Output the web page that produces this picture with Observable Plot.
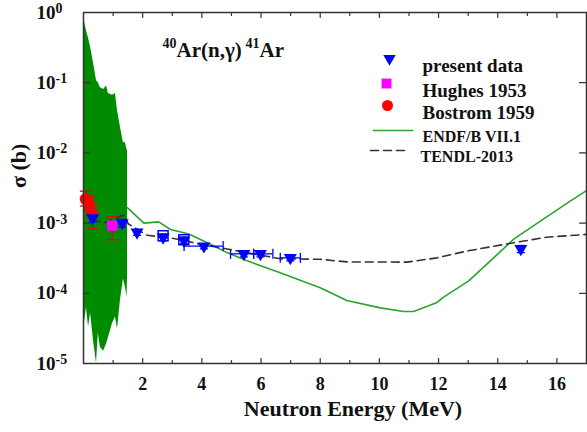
<!DOCTYPE html>
<html><head><meta charset="utf-8">
<script src="https://cdn.jsdelivr.net/npm/d3@7"></script>
<script src="https://cdn.jsdelivr.net/npm/@observablehq/plot@0.6"></script>
<style>body{margin:0;background:#fff}#chart{width:587px;height:432px}</style>
</head><body><div id="chart"></div><script>
// ---- data ----
const presentE  = [0.31, 1.31, 1.81, 2.69, 3.39, 4.07, 5.42, 5.98, 6.99, 14.78];
const presentS  = [1.18e-3, 1.00e-3, 7.4e-4, 6.3e-4, 5.7e-4, 4.7e-4, 3.65e-4, 3.65e-4, 3.2e-4, 4.3e-4];
const presentLo = [1.03e-3, 0.88e-3, 6.7e-4, 5.6e-4, 5.1e-4, 4.3e-4, 3.3e-4, 3.3e-4, 2.9e-4, 3.8e-4];
const presentHi = [1.34e-3, 1.13e-3, 8.1e-4, 7.0e-4, 6.3e-4, 5.1e-4, 4.0e-4, 4.0e-4, 3.5e-4, 4.8e-4];
const presentEmin = [null, null, null, null, null, 3.40, 4.97, 5.75, 6.65, null];
const presentEmax = [null, null, null, null, null, 4.72, 5.75, 6.40, 7.33, null];
const squareE = [2.69, 3.39];
const squareS = [6.6e-4, 5.8e-4];
const hughesE = [0.97];
const hughesS = [9.2e-4];
const hughesLo = [5.8e-4];
const hughesHi = [1.23e-3];
const bostromE = [0.08, 0.18, 0.30];
const bostromS = [2.2e-3, 1.9e-3, 1.35e-3];
const bostromLo = [1.75e-3, 1.5e-3, 8.3e-4];
const bostromHi = [2.85e-3, 2.4e-3, 1.75e-3];
// ENDF/B-VII.1 resonance region envelope
const resE  = [0.03, 0.10, 0.17, 0.24, 0.34, 0.44, 0.50, 0.57, 0.68, 0.78, 0.84, 0.98, 1.08, 1.15, 1.25, 1.35, 1.42, 1.47, 1.49];
const resHi = [0.75, 0.55, 0.43, 0.32, 0.19, 0.107, 0.10, 0.085, 0.08, 0.09, 0.07, 0.066, 0.07, 0.04, 0.023, 0.014, 0.014, 0.011, 0.011];
const resLo = [3.7e-5, 6.3e-5, 3.3e-5, 5.2e-5, 2.1e-5, 1.0e-5, 2.7e-5, 1.7e-5, 1.5e-5, 1.9e-5, 2.3e-5, 3.7e-5, 4.6e-5, 3.1e-5, 8e-5, 1.6e-4, 1.2e-4, 8.7e-5, 1.8e-4];
// ENDF/B-VII.1 smooth part
const endfE = [1.49, 2.04, 2.54, 2.94, 3.56, 4.29, 4.85, 5.53, 6.6, 8.0, 8.9, 10.03, 10.82, 11.16, 11.95, 12.17, 13.02, 13.86, 14.54, 15.44, 16.45, 17.0];
const endfS = [1.65e-3, 1.0e-3, 1.04e-3, 8.1e-4, 7.0e-4, 5.0e-4, 3.8e-4, 2.9e-4, 2.0e-4, 1.2e-4, 7.9e-5, 6.2e-5, 5.5e-5, 5.5e-5, 7.4e-5, 8.8e-5, 1.5e-4, 3.2e-4, 5.9e-4, 1.07e-3, 2.06e-3, 2.9e-3];
// TENDL-2013
const tendlE = [0.29, 0.68, 1.35, 1.52, 2.15, 3.05, 3.95, 4.63, 6.65, 8.0, 8.9, 10.93, 11.95, 12.96, 14.54, 15.66, 17.0];
const tendlS = [1.14e-3, 1.0e-3, 1.3e-3, 9.7e-4, 6.7e-4, 6.05e-4, 5.0e-4, 4.45e-4, 3.1e-4, 3.05e-4, 2.8e-4, 2.78e-4, 3.2e-4, 4.0e-4, 5.25e-4, 6.3e-4, 6.9e-4];
// axes
const xMajor = [2, 4, 6, 8, 10, 12, 14, 16];
const xMinor = [1, 3, 5, 7, 9, 11, 13, 15];
const yTicks = [1e-5, 1e-4, 1e-3, 1e-2, 1e-1, 1];
const yExp = ["-5", "-4", "-3", "-2", "-1", "0"];
const legendLabels = ["present data", "Hughes 1953", "Bostrom 1959", "ENDF/B VII.1", "TENDL-2013"];

// ---- tables ----
const present = presentE.map((E, i) => ({E, s: presentS[i], lo: presentLo[i], hi: presentHi[i], emin: presentEmin[i], emax: presentEmax[i]}));
const presentH = present.filter(d => d.emin != null);
const squares = squareE.map((E, i) => ({E, s: squareS[i]}));
const hughes = hughesE.map((E, i) => ({E, s: hughesS[i], lo: hughesLo[i], hi: hughesHi[i]}));
const bostrom = bostromE.map((E, i) => ({E, s: bostromS[i], lo: bostromLo[i], hi: bostromHi[i]}));
const redBars = [...hughes, ...bostrom];
const res = resE.map((E, i) => ({E, lo: resLo[i], hi: resHi[i]}));
const endf = endfE.map((E, i) => ({E, s: endfS[i]}));
const tendl = tendlE.map((E, i) => ({E, s: tendlS[i]}));

// ---- shapes ----
const lineShape = {draw(ctx, l) { ctx.moveTo(0, 0); ctx.lineTo(0, -l); }};
const hCap = w => ({draw(ctx) { ctx.moveTo(-w, 0); ctx.lineTo(w, 0); }});
const vCap = h => ({draw(ctx) { ctx.moveTo(0, -h); ctx.lineTo(0, h); }});
const downTri = {draw(ctx, size) {
  const y = Math.sqrt(size / (Math.sqrt(3) * 3));
  ctx.moveTo(0, 2 * y); ctx.lineTo(-Math.sqrt(3) * y, -y); ctx.lineTo(Math.sqrt(3) * y, -y); ctx.closePath();
}};

const FONT = "Liberation Serif";
const AX = "#333";
const BLUE = "#0000ff", RED = "#ff0000", REDBAR = "#d01010", MAG = "#ff00ff", GREEN = "#2aa52a", GREENFILL = "#008c00";
const T = {fontFamily: FONT, fontWeight: "bold", fill: "#111"};

const chart = Plot.plot({
  width: 587, height: 432,
  marginLeft: 83, marginRight: 1, marginTop: 12, marginBottom: 69,
  style: {fontFamily: FONT, fontWeight: "bold", color: "#111", background: "#fff"},
  x: {domain: [0, 17], axis: null},
  y: {type: "log", domain: [1e-5, 1], axis: null},
  marks: [
    // ENDF resonance region
    Plot.areaY(res, {x: "E", y1: "lo", y2: "hi", fill: GREENFILL, curve: "linear"}),
    Plot.line(endf, {x: "E", y: "s", stroke: GREEN, strokeWidth: 1.6}),
    Plot.line(tendl, {x: "E", y: "s", stroke: AX, strokeWidth: 1.6, strokeDasharray: "8,5"}),
    // red error bars (Hughes, Bostrom)
    Plot.ruleX(redBars, {x: "E", y1: "lo", y2: "hi", stroke: REDBAR, strokeWidth: 1.3}),
    Plot.dot(redBars, {x: "E", y: "lo", symbol: hCap(6), stroke: REDBAR, fill: "none", strokeWidth: 1.3}),
    Plot.dot(redBars, {x: "E", y: "hi", symbol: hCap(6), stroke: REDBAR, fill: "none", strokeWidth: 1.3}),
    // present data error bars
    Plot.ruleX(present, {x: "E", y1: "lo", y2: "hi", stroke: BLUE, strokeWidth: 1.3}),
    Plot.dot(present, {x: "E", y: "lo", symbol: hCap(4), stroke: BLUE, fill: "none", strokeWidth: 1.3}),
    Plot.dot(present, {x: "E", y: "hi", symbol: hCap(4), stroke: BLUE, fill: "none", strokeWidth: 1.3}),
    Plot.ruleY(presentH, {y: "s", x1: "emin", x2: "emax", stroke: BLUE, strokeWidth: 1.3}),
    Plot.dot(presentH, {x: "emin", y: "s", symbol: vCap(5), stroke: BLUE, fill: "none", strokeWidth: 1.3}),
    Plot.dot(presentH, {x: "emax", y: "s", symbol: vCap(5), stroke: BLUE, fill: "none", strokeWidth: 1.3}),
    // open squares
    Plot.dot(squares, {x: "E", y: "s", symbol: "square", r: 5.6, stroke: BLUE, fill: "none", strokeWidth: 1.5}),
    // points
    Plot.dot(bostrom, {x: "E", y: "s", r: 6.2, fill: RED, stroke: "none"}),
    Plot.dot(hughes, {x: "E", y: "s", symbol: "square", r: 5.8, fill: MAG, stroke: "none"}),
    Plot.dot(present, {x: "E", y: "s", symbol: downTri, r: 4.8, fill: BLUE, stroke: "none"}),
    // frame
    Plot.frame({stroke: AX, strokeWidth: 1.5}),
    // ticks (inward)
    Plot.vector(xMajor, {x: d => d, frameAnchor: "bottom", anchor: "start", rotate: 0, length: 5, shape: lineShape, stroke: AX, strokeWidth: 1.2}),
    Plot.vector(xMinor, {x: d => d, frameAnchor: "bottom", anchor: "start", rotate: 0, length: 3, shape: lineShape, stroke: AX, strokeWidth: 1.2}),
    Plot.vector(xMajor, {x: d => d, frameAnchor: "top", anchor: "start", rotate: 180, length: 5, shape: lineShape, stroke: AX, strokeWidth: 1.2}),
    Plot.vector(xMinor, {x: d => d, frameAnchor: "top", anchor: "start", rotate: 180, length: 3, shape: lineShape, stroke: AX, strokeWidth: 1.2}),
    Plot.vector(yTicks, {y: d => d, frameAnchor: "left", anchor: "start", rotate: 90, length: 6, shape: lineShape, stroke: AX, strokeWidth: 1.2}),
    Plot.vector(yTicks, {y: d => d, frameAnchor: "right", anchor: "start", rotate: -90, length: 7, shape: lineShape, stroke: AX, strokeWidth: 1.2}),
    // tick labels
    Plot.text(xMajor, {x: d => d, text: d => String(d), frameAnchor: "bottom", dy: 26, fontSize: 18, ...T}),
    Plot.text(yTicks, {y: d => d, text: () => "10", frameAnchor: "left", textAnchor: "end", dx: -28, fontSize: 19, ...T}),
    Plot.text(yTicks, {y: d => d, text: (d, i) => yExp[i], frameAnchor: "left", textAnchor: "start", dx: -28, dy: -4, fontSize: 14, ...T}),
    // axis titles
    Plot.text(["Neutron Energy (MeV)"], {frameAnchor: "bottom", dx: 18, dy: 52, fontSize: 22, ...T}),
    Plot.text(["σ (b)"], {frameAnchor: "left", dx: -65, rotate: -90, fontSize: 22, ...T}),
    // in-plot title 40Ar(n,γ)41Ar
    Plot.text(["40"], {frameAnchor: "top-left", textAnchor: "start", lineAnchor: "bottom", dx: 79, dy: 35, fontSize: 14, ...T}),
    Plot.text(["Ar(n,γ)"], {frameAnchor: "top-left", textAnchor: "start", lineAnchor: "bottom", dx: 93, dy: 44, fontSize: 21, ...T}),
    Plot.text(["41"], {frameAnchor: "top-left", textAnchor: "start", lineAnchor: "bottom", dx: 162, dy: 35, fontSize: 14, ...T}),
    Plot.text(["Ar"], {frameAnchor: "top-left", textAnchor: "start", lineAnchor: "bottom", dx: 176, dy: 44, fontSize: 21, ...T}),
    // legend
    Plot.dot([0], {frameAnchor: "top-left", dx: 306, dy: 46, symbol: downTri, r: 4.6, fill: BLUE, stroke: "none"}),
    Plot.dot([0], {frameAnchor: "top-left", dx: 303, dy: 71, symbol: "square", r: 5.6, fill: MAG, stroke: "none"}),
    Plot.dot([0], {frameAnchor: "top-left", dx: 304, dy: 93, r: 5.5, fill: RED, stroke: "none"}),
    Plot.vector([0], {frameAnchor: "top-left", dx: 290, dy: 118, anchor: "start", rotate: 90, length: 39, shape: lineShape, stroke: GREEN, strokeWidth: 1.6}),
    Plot.vector([0], {frameAnchor: "top-left", dx: 287, dy: 138, anchor: "start", rotate: 90, length: 36, shape: lineShape, stroke: AX, strokeWidth: 1.6, strokeDasharray: "8,5"}),
    Plot.text([legendLabels[0]], {frameAnchor: "top-left", textAnchor: "start", dx: 339, dy: 46, fontSize: 19, ...T}),
    Plot.text([legendLabels[1]], {frameAnchor: "top-left", textAnchor: "start", dx: 339, dy: 71, fontSize: 19, ...T}),
    Plot.text([legendLabels[2]], {frameAnchor: "top-left", textAnchor: "start", dx: 339, dy: 93, fontSize: 19, ...T}),
    Plot.text([legendLabels[3]], {frameAnchor: "top-left", textAnchor: "start", dx: 339, dy: 118, fontSize: 16, ...T}),
    Plot.text([legendLabels[4]], {frameAnchor: "top-left", textAnchor: "start", dx: 337, dy: 138, fontSize: 16, ...T})
  ]
});
document.getElementById("chart").appendChild(chart);
</script></body></html>
